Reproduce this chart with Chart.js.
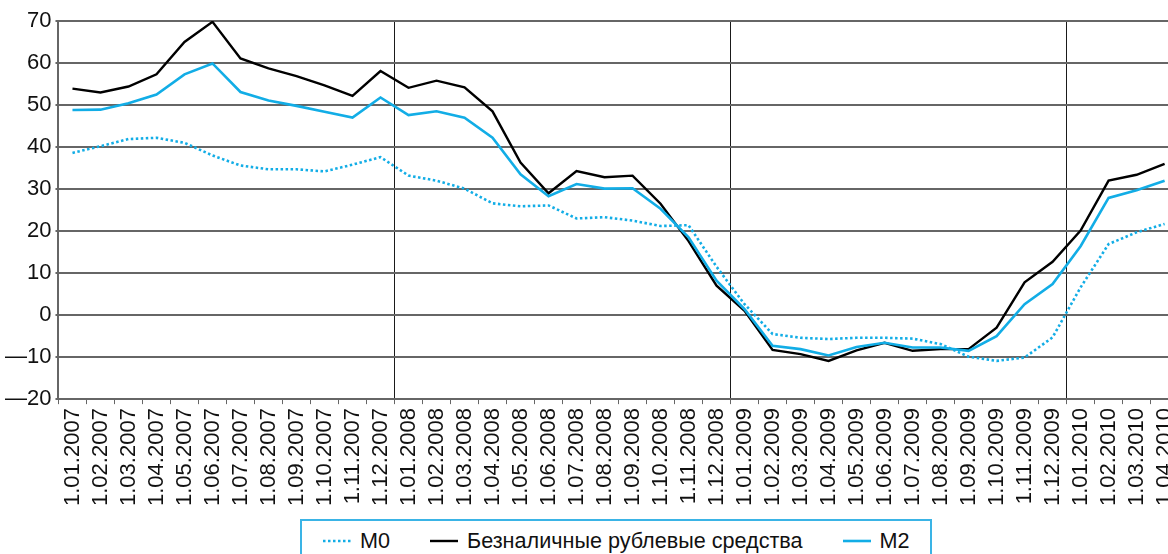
<!DOCTYPE html>
<html lang="ru">
<head>
    <meta charset="UTF-8">
    <title>M0, M2 и безналичные рублевые средства</title>
    <script src="https://cdn.jsdelivr.net/npm/chart.js@4.4.1/dist/chart.umd.min.js"></script>
    <style>
        html, body { margin: 0; padding: 0; background: #fff; overflow: hidden; }
        #wrap { position: relative; width: 1168px; height: 554px; overflow: hidden; }
        #myChart { position: absolute; left: 0; top: 0; }
        #legend {
            position: absolute; left: 300px; top: 519px; height: 60px;
            border: 2px solid #3ab4e6; box-sizing: border-box;
            padding: 7px 20px 0 21px;
            font: 21.6px "Liberation Sans", Arial, sans-serif; color: #111;
            display: flex; align-items: flex-start;
            white-space: nowrap;
        }
        #legend .item { display: flex; align-items: center; height: 25px; margin-right: 40px; }
        #legend .item:last-child { margin-right: 0; }
        #legend svg { margin-right: 9px; }
    </style>
</head>
<body>
<div id="wrap">
    <canvas id="myChart" width="1195" height="510"></canvas>
    <div id="legend"></div>
</div>
<script>
    // months, 1.01.2007 .. 1.04.2010
    const months = [
        '1.01.2007', '1.02.2007', '1.03.2007', '1.04.2007', '1.05.2007', '1.06.2007',
        '1.07.2007', '1.08.2007', '1.09.2007', '1.10.2007', '1.11.2007', '1.12.2007',
        '1.01.2008', '1.02.2008', '1.03.2008', '1.04.2008', '1.05.2008', '1.06.2008',
        '1.07.2008', '1.08.2008', '1.09.2008', '1.10.2008', '1.11.2008', '1.12.2008',
        '1.01.2009', '1.02.2009', '1.03.2009', '1.04.2009', '1.05.2009', '1.06.2009',
        '1.07.2009', '1.08.2009', '1.09.2009', '1.10.2009', '1.11.2009', '1.12.2009',
        '1.01.2010', '1.02.2010', '1.03.2010', '1.04.2010'
    ];

    const seriesNames = ['M0', 'Безналичные рублевые средства', 'M2'];

    const m0 = [
        38.6, 40.2, 41.9, 42.2, 41.0, 38.0, 35.6, 34.7, 34.7, 34.2, 35.8, 37.6,
        33.2, 32.0, 30.1, 26.6, 25.9, 26.1, 23.0, 23.3, 22.5, 21.2, 21.4, 11.5,
        2.6, -4.5, -5.4, -5.7, -5.4, -5.4, -5.6, -6.9, -9.9, -10.9, -10.1, -5.3,
        6.6, 16.9, 19.7, 21.7
    ];

    const cashless = [
        53.9, 53.0, 54.4, 57.3, 65.0, 69.8, 61.1, 58.7, 56.9, 54.7, 52.2, 58.1,
        54.1, 55.8, 54.2, 48.5, 36.3, 29.0, 34.3, 32.8, 33.2, 26.5, 17.6, 7.0,
        1.0, -8.3, -9.3, -10.9, -8.4, -6.6, -8.5, -8.1, -8.1, -3.0, 7.8, 12.7,
        20.1, 32.0, 33.4, 36.0
    ];

    const m2 = [
        48.8, 48.9, 50.4, 52.5, 57.3, 59.9, 53.1, 51.1, 49.8, 48.4, 47.0, 51.8,
        47.6, 48.5, 47.0, 42.2, 33.5, 28.3, 31.2, 30.1, 30.2, 25.3, 18.5, 8.2,
        1.4, -7.3, -8.1, -9.6, -7.6, -6.6, -7.7, -7.7, -8.5, -5.0, 2.6, 7.4,
        16.4, 27.9, 29.7, 32.0
    ];

    const yTicks = { min: -20, max: 70, step: 10 };

    const BLUE = '#12ade6';
    const FONT = '"Liberation Sans", Arial, sans-serif';

    const styles = [
        { color: BLUE, dash: [2.5, 2.5], width: 2.6 },
        { color: '#000000', dash: [], width: 2.4 },
        { color: BLUE, dash: [], width: 2.6 }
    ];
    const seriesData = [m0, cashless, m2];

    const ctx = document.getElementById('myChart').getContext('2d');
    new Chart(ctx, {
        type: 'line',
        data: {
            labels: months,
            datasets: seriesNames.map((name, i) => ({
                label: name,
                data: seriesData[i],
                borderColor: styles[i].color,
                borderWidth: styles[i].width,
                borderDash: styles[i].dash,
                borderCapStyle: 'butt',
                fill: false,
                pointRadius: 0,
                tension: 0,
                order: [0, 2, 1][i]
            }))
        },
        options: {
            responsive: false,
            animation: false,
            layout: { padding: { top: 21, left: 1, right: 0, bottom: 0 } },
            plugins: {
                legend: { display: false },
                tooltip: { enabled: false }
            },
            scales: {
                x: {
                    offset: true,
                    grid: {
                        offset: true,
                        // vertical lines only at year boundaries
                        color: c => (c.index > 0 && c.index % 12 === 0) ? '#1a1a1a' : 'rgba(0,0,0,0)',
                        lineWidth: 1,
                        tickColor: '#666',
                        tickLength: 5
                    },
                    border: { color: '#666', width: 2 },
                    ticks: {
                        autoSkip: false,
                        minRotation: 90,
                        maxRotation: 90,
                        padding: 4,
                        color: '#111',
                        font: { family: FONT, size: 22 }
                    }
                },
                y: {
                    min: yTicks.min,
                    max: yTicks.max,
                    grid: {
                        color: '#666',
                        lineWidth: 2,
                        tickLength: 3
                    },
                    border: { color: '#666', width: 2 },
                    ticks: {
                        stepSize: yTicks.step,
                        padding: 4,
                        color: '#111',
                        font: { family: FONT, size: 22 },
                        callback: v => v < 0 ? '\u2014' + Math.abs(v) : String(v)
                    }
                }
            }
        }
    });

    // legend below the chart
    const legend = document.getElementById('legend');
    seriesNames.forEach((name, i) => {
        const item = document.createElement('div');
        item.className = 'item';
        const s = styles[i];
        item.innerHTML =
            '<svg width="28" height="6"><line x1="0" y1="3" x2="28" y2="3" stroke="' + s.color +
            '" stroke-width="' + s.width + '"' + (s.dash.length ? ' stroke-dasharray="' + s.dash.join(' ') + '"' : '') +
            '/></svg><span>' + name + '</span>';
        legend.appendChild(item);
    });
</script>
</body>
</html>
